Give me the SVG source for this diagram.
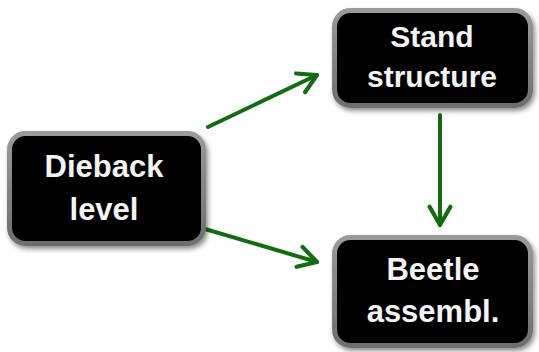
<svg xmlns="http://www.w3.org/2000/svg" width="539" height="352" viewBox="0 0 539 352">
<defs>
  <linearGradient id="border" x1="0" y1="0" x2="0" y2="1">
    <stop offset="0" stop-color="#9a9a9a"/>
    <stop offset="1" stop-color="#6e6e6e"/>
  </linearGradient>
  <filter id="shadow" x="-10%" y="-10%" width="125%" height="130%">
    <feGaussianBlur in="SourceAlpha" stdDeviation="2.5"/>
    <feOffset dx="2" dy="3" result="b"/>
    <feComponentTransfer><feFuncA type="linear" slope="0.45"/></feComponentTransfer>
    <feMerge><feMergeNode/><feMergeNode in="SourceGraphic"/></feMerge>
  </filter>
  <marker id="arrow" viewBox="0 0 20 20" refX="17" refY="10" markerWidth="6.5" markerHeight="6.5" markerUnits="strokeWidth" orient="auto">
    <path d="M3,2 L17,10 L3,18" fill="none" stroke="#136b13" stroke-width="3.2" stroke-linecap="round" stroke-linejoin="round"/>
  </marker>
</defs>
<style>
  .box { fill: #000; stroke: url(#border); stroke-width: 5; filter: url(#shadow); }
  .lbl { font-family: "Liberation Sans", Arial, sans-serif; font-weight: bold; font-size: 31px; fill: #f4f4f4; text-anchor: middle; }
  .sm { font-size: 30px; }
  .edge { fill: none; stroke: #136b13; stroke-width: 4; stroke-linecap: round; marker-end: url(#arrow); }
</style>
<g id="connectors">
  <line class="edge" x1="208" y1="127" x2="317" y2="75"/>
  <line class="edge" x1="205" y1="229" x2="317" y2="262"/>
  <line class="edge" x1="440" y1="115" x2="440" y2="225"/>
</g>
<g id="dieback">
  <rect class="box" x="9.5" y="133.5" width="194" height="110" rx="16"/>
  <text class="lbl" x="104" y="177">Dieback</text>
  <text class="lbl" x="104" y="220">level</text>
</g>
<g id="stand">
  <rect class="box" x="334.5" y="10.5" width="196" height="95" rx="16"/>
  <text class="lbl sm" x="432" y="47">Stand</text>
  <text class="lbl sm" x="432" y="87">structure</text>
</g>
<g id="beetle">
  <rect class="box" x="334.5" y="237.5" width="196" height="108" rx="16"/>
  <text class="lbl" x="433" y="280">Beetle</text>
  <text class="lbl" x="433" y="322">assembl.</text>
</g>
</svg>
